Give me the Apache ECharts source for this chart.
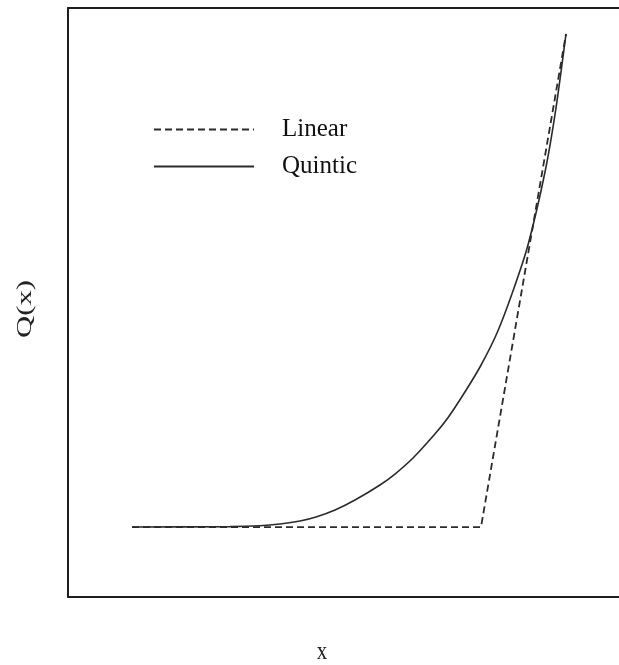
<!DOCTYPE html>
<html>
<head>
<meta charset="utf-8">
<script src="https://cdn.jsdelivr.net/npm/echarts@6/dist/echarts.min.js"></script>
<style>
html,body{margin:0;padding:0;background:#fff;overflow:hidden;}
#chart{width:619px;height:665px;}
</style>
</head>
<body>
<div id="chart"></div>
<script>
// Data (x and Q(x) in arbitrary units)
const seriesNames = ['Linear', 'Quintic'];
const quinticX = [1.143, 2.893, 3.429, 3.786, 4.143, 4.429, 4.768, 5.125, 5.571, 5.839, 6.161, 6.536, 6.768, 7.054, 7.357, 7.661, 7.946, 8.214, 8.518, 8.714, 8.893];
const quinticY = [1.188, 1.194, 1.209, 1.239, 1.290, 1.358, 1.477, 1.647, 1.902, 2.088, 2.360, 2.750, 3.022, 3.430, 3.905, 4.482, 5.195, 5.976, 7.216, 8.302, 9.559];
const linearX = [1.143, 7.375, 8.893];
const linearY = [1.188, 1.188, 9.559];
const xLabel = 'x';
const yLabel = 'Q(x)';

const zip = (xs, ys) => xs.map((v, i) => [v, ys[i]]);
const serif = '"Liberation Serif", "DejaVu Serif", serif';
const ink = '#2b2b2b';
const frame = {show: true, onZero: false, lineStyle: {color: '#1e1e1e', width: 2}};
const hidden = {axisTick: {show: false}, axisLabel: {show: false}, splitLine: {show: false}};

const chart = echarts.init(document.getElementById('chart'), null, {renderer: 'canvas'});
chart.setOption({
  backgroundColor: '#ffffff',
  animation: false,
  color: [ink, ink],
  grid: {
    left: 68, top: 8, bottom: 68, right: -30,
    outerBoundsMode: 'none', containLabel: false, show: false
  },
  xAxis: [
    Object.assign({type: 'value', min: 0, max: 10.375, position: 'bottom', axisLine: frame}, hidden),
    Object.assign({type: 'value', min: 0, max: 10.375, position: 'top', axisLine: frame}, hidden)
  ],
  yAxis: Object.assign({type: 'value', min: 0, max: 10, position: 'left', axisLine: frame}, hidden),
  legend: {
    orient: 'vertical',
    left: 148, top: 110,
    itemWidth: 100, itemHeight: 14, itemGap: 8,
    data: seriesNames,
    itemStyle: {opacity: 0, borderWidth: 0},
    textStyle: {fontFamily: serif, fontSize: 25, color: '#111', lineHeight: 29, padding: [0, 0, 0, 23]}
  },
  series: [
    {
      name: seriesNames[0], type: 'line', data: zip(linearX, linearY),
      symbol: 'none', z: 2,
      itemStyle: {color: ink},
      lineStyle: {color: ink, width: 1.8, type: [7, 4]}
    },
    {
      name: seriesNames[1], type: 'line', data: zip(quinticX, quinticY),
      symbol: 'none', smooth: 0.25, z: 3,
      itemStyle: {color: ink},
      lineStyle: {color: ink, width: 1.6, type: 'solid'}
    }
  ],
  graphic: [
    {
      type: 'text', x: 25, y: 309, rotation: Math.PI / 2, scaleX: 1.4, scaleY: 1,
      style: {text: yLabel, font: '22px ' + serif, fill: '#222', align: 'center', verticalAlign: 'middle'}
    },
    {
      type: 'text', x: 322, y: 652, scaleY: 1.2,
      style: {text: xLabel, font: '21px ' + serif, fill: '#222', align: 'center', verticalAlign: 'middle'}
    }
  ]
});
</script>
</body>
</html>
